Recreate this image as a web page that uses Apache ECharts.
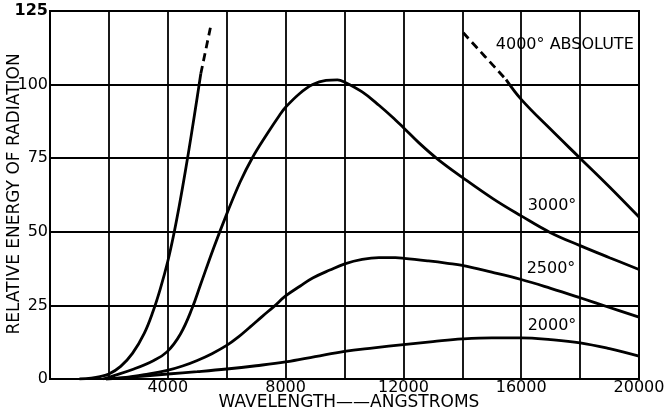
<!DOCTYPE html>
<html>
<head>
<meta charset="utf-8">
<script src="https://cdn.jsdelivr.net/npm/echarts@6/dist/echarts.min.js"></script>
<style>
html,body{margin:0;padding:0;background:#fff;}
#chart{width:666px;height:415px;}
</style>
</head>
<body>
<div id="chart"></div>
<script>
// ---- data (wavelength in Å, relative energy) ----
const xTicks = [4000, 8000, 12000, 16000, 20000];
const yTicks = [0, 25, 50, 75, 100, 125];
const xTitle = 'WAVELENGTH——ANGSTROMS';
const yTitle = 'RELATIVE ENERGY OF RADIATION';

const steepSolid = [[1000,0],[1400,0.3],[1700,0.8],[2000,1.7],[2400,4.3],[2800,8.7],[3200,15.5],[3500,23],[3750,30.8],[4000,40],[4200,49],[4400,59.4],[4600,70.8],[4800,83],[5000,95.8],[5120,103.7]];
const steepDashed = [[5120,103.7],[5460,120]];

const t3000 = [[1800,0],[2000,0.6],[2850,3.4],[3525,6.3],[3980,9.3],[4430,15.3],[4825,24],[5110,32],[5560,44.6],[6000,56],[6460,67],[6864,75],[7370,83.2],[7800,89.7],[8000,92.3],[8470,96.9],[8920,100],[9370,101.4],[9760,101.6],[10010,100.8],[10600,97.5],[11170,93],[11730,88],[12020,85.2],[12520,80.3],[13150,74.8],[14000,68.5],[15050,61.2],[16000,55.4],[16980,49.8],[18000,45.3],[19000,41.2],[20000,37.2]];

const t2500 = [[1900,0],[2500,0.5],[3200,1.5],[3980,2.9],[4500,4.4],[5000,6.3],[5500,8.6],[6000,11.4],[6400,14.3],[6800,17.7],[7200,21.2],[7600,24.6],[8000,28.2],[8500,31.6],[8920,34.3],[9500,37],[10010,39.1],[10600,40.6],[11170,41.2],[11730,41.2],[12020,41.0],[12850,40.1],[13500,39.3],[14000,38.6],[15000,36.3],[16000,33.8],[17000,30.8],[18000,27.6],[19000,24.3],[20000,21.0]];

const t2000 = [[1900,0],[2500,0.4],[3200,1.0],[4000,1.7],[5000,2.5],[6000,3.4],[7000,4.5],[8000,5.8],[9000,7.6],[10000,9.4],[11000,10.6],[12000,11.7],[13000,12.7],[14000,13.6],[15000,14.0],[16000,14.0],[17000,13.4],[18000,12.3],[19000,10.3],[20000,7.8]];

const t4000Dashed = [[14034,117.6],[15486,101.7]];
const t4000Solid = [[15486,101.7],[16000,95.0],[17000,84.8],[18000,75.0],[19000,65.2],[20000,55.0]];

const curveLabels = [
  {name:'4000° ABSOLUTE', coord:[17480,113.4]},
  {name:'3000°', coord:[17046,58.8]},
  {name:'2500°', coord:[17012,37.4]},
  {name:'2000°', coord:[17046,18.0]}
];

const FONT = 'DejaVu Sans';
const chart = echarts.init(document.getElementById('chart'), null, {renderer:'canvas'});

function line(data, dashed){
  return {
    type:'line', data:data, showSymbol:false, smooth:0.4,
    lineStyle:{color:'#000', width:2.8, type: dashed ? [8,5] : 'solid'},
    silent:true, animation:false, z:5
  };
}

const series = [
  line(steepSolid,false), line(steepDashed,true),
  line(t3000,false), line(t2500,false), line(t2000,false),
  line(t4000Dashed,true), line(t4000Solid,false)
];
series.push({
  type:'scatter', data:[], silent:true, animation:false,
  markPoint:{
    symbol:'circle', symbolSize:0, animation:false,
    label:{show:true, position:'inside', color:'#000', fontFamily:FONT, fontSize:16,
      formatter: p => p.name},
    data: curveLabels.map(l => ({name:l.name, coord:l.coord, value:0}))
  }
});

chart.setOption({
  animation:false,
  backgroundColor:'#fff',
  grid:{left:50, right:27, top:11, bottom:36, containLabel:false, outerBoundsMode:'none',
        show:true, borderColor:'#000', borderWidth:2},
  graphic:[
    {type:'text', x:349, y:403, silent:true,
     style:{text:xTitle, fill:'#000', font:'17px "DejaVu Sans"', textAlign:'center', textVerticalAlign:'middle'}},
    {type:'text', x:15, y:194, rotation:Math.PI/2, silent:true,
     style:{text:yTitle, fill:'#000', font:'17px "DejaVu Sans"', textAlign:'center', textVerticalAlign:'middle'}}
  ],
  xAxis:{
    type:'value', min:0, max:20000, interval:2000,
    axisLine:{show:true, lineStyle:{color:'#000', width:2}},
    axisTick:{show:false},
    axisLabel:{color:'#000', fontFamily:FONT, fontSize:16, margin:1,
      formatter: v => xTicks.indexOf(v) >= 0 ? String(v) : ''},
    splitLine:{show:true, lineStyle:{color:'#000', width:1.8}}
  },
  yAxis:{
    type:'value', min:0, max:125, interval:25,
    axisLine:{show:true, lineStyle:{color:'#000', width:2}},
    axisTick:{show:false},
    axisLabel:{color:'#000', fontFamily:FONT, fontSize:16, margin:2,
      formatter: v => yTicks.indexOf(v) < 0 ? '' : (v === 125 ? '{b|125}' : String(v)),
      rich:{b:{fontFamily:FONT, fontSize:16, fontWeight:'bold', color:'#000'}}},
    splitLine:{show:true, lineStyle:{color:'#000', width:1.8}}
  },
  series: series
});
</script>
</body>
</html>
